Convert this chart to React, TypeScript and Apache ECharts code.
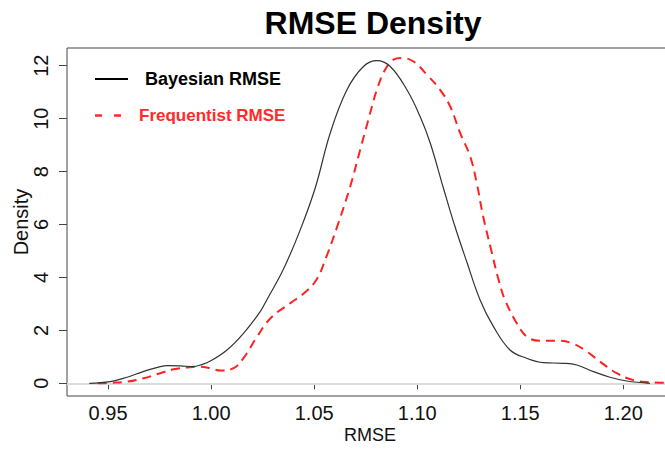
import React, { useEffect, useRef } from "react";
import * as echarts from "echarts";

// Bayesian RMSE density
const bayesX = [0.9409, 0.951, 0.9592, 0.967, 0.9753, 0.9786, 0.985, 0.9915, 0.9947, 0.9996, 1.0077, 1.0157, 1.0238, 1.027, 1.035, 1.043, 1.0505, 1.0578, 1.0659, 1.0739, 1.0804, 1.0869, 1.095, 1.1014, 1.1063, 1.1127, 1.118, 1.124, 1.1305, 1.137, 1.145, 1.1531, 1.1612, 1.1709, 1.1774, 1.1855, 1.1935, 1.2016, 1.2129];
const bayesY = [0, 0.06, 0.23, 0.44, 0.63, 0.67, 0.66, 0.63, 0.69, 0.84, 1.26, 1.89, 2.71, 3.15, 4.3, 5.75, 7.38, 9.46, 11.09, 11.97, 12.19, 11.97, 11.09, 10.08, 9.08, 7.38, 6.0, 4.6, 3.15, 2.14, 1.26, 0.945, 0.78, 0.756, 0.69, 0.44, 0.23, 0.087, 0];

// Frequentist RMSE density
const freqX = [0.945, 0.951, 0.9592, 0.9672, 0.9753, 0.9818, 0.9883, 0.9931, 0.9996, 1.0044, 1.0109, 1.0157, 1.0222, 1.0287, 1.0384, 1.045, 1.051, 1.056, 1.0615, 1.0675, 1.0723, 1.0763, 1.0804, 1.0844, 1.0885, 1.0925, 1.0982, 1.1047, 1.1111, 1.116, 1.1208, 1.1257, 1.1289, 1.132, 1.136, 1.1395, 1.1426, 1.1483, 1.1532, 1.1596, 1.1693, 1.1758, 1.1823, 1.1887, 1.1968, 1.2049, 1.2129, 1.2202];
const freqY = [0.005, 0.02, 0.06, 0.19, 0.38, 0.53, 0.6, 0.63, 0.57, 0.48, 0.57, 0.95, 1.75, 2.45, 3.03, 3.4, 3.9, 4.8, 6.0, 7.44, 8.82, 9.96, 11.09, 11.85, 12.23, 12.29, 12.16, 11.66, 11.09, 10.46, 9.46, 8.57, 7.56, 6.3, 5.0, 3.9, 3.15, 2.27, 1.76, 1.61, 1.61, 1.49, 1.2, 0.82, 0.38, 0.12, 0.04, 0.02];

const xTicks = [0.95, 1.0, 1.05, 1.1, 1.15, 1.2];
const yTicks = [0, 2, 4, 6, 8, 10, 12];

const FONT = "'Liberation Sans', Arial, sans-serif";

export default function App() {
  const ref = useRef<HTMLDivElement>(null);
  useEffect(() => {
    if (!ref.current) return;
    const chart = echarts.init(ref.current, null, { renderer: "svg" });
    const bayes = bayesX.map((x, i) => [x, bayesY[i]]);
    const freq = freqX.map((x, i) => [x, freqY[i]]);
    chart.setOption({
      animation: false,
      backgroundColor: "#fff",
      textStyle: { fontFamily: FONT },
      grid: {
        left: 67,
        top: 48,
        width: 606,
        height: 348,
        show: true,
        borderColor: "#444",
        borderWidth: 1,
        containLabel: false,
        outerBoundsMode: "none",
      },
      xAxis: {
        type: "value",
        min: 0.93007,
        max: 1.2241,
        name: "RMSE",
        nameLocation: "middle",
        nameGap: 30,
        nameMoveOverlap: false,
        nameTextStyle: { fontSize: 18, color: "#111", fontFamily: FONT },
        axisLine: { show: false },
        splitLine: { show: false },
        axisTick: {
          show: true,
          inside: false,
          length: 6,
          customValues: xTicks,
          lineStyle: { color: "#444", width: 1 },
        },
        axisLabel: {
          customValues: xTicks,
          formatter: (v: number) => v.toFixed(2),
          fontSize: 20,
          color: "#111",
          margin: 7,
          fontFamily: FONT,
        },
      },
      yAxis: {
        type: "value",
        min: -0.48,
        max: 12.67,
        name: "Density",
        nameLocation: "middle",
        nameRotate: 90,
        nameGap: 36,
        nameMoveOverlap: false,
        nameTextStyle: { fontSize: 20, color: "#111", fontFamily: FONT },
        axisLine: { show: false },
        splitLine: { show: false },
        axisTick: {
          show: true,
          length: 8,
          customValues: yTicks,
          lineStyle: { color: "#444", width: 1 },
        },
        axisLabel: {
          customValues: yTicks,
          rotate: 90,
          fontSize: 20,
          color: "#111",
          margin: 16,
          fontFamily: FONT,
        },
      },
      series: [
        {
          type: "line",
          name: "Frequentist RMSE",
          data: freq,
          showSymbol: false,
          symbol: "none",
          smooth: 0.4,
          lineStyle: { color: "#ff2020", width: 2, type: [9, 6] },
          z: 3,
        },
        {
          type: "line",
          name: "Bayesian RMSE",
          data: bayes,
          showSymbol: false,
          symbol: "none",
          smooth: 0.4,
          lineStyle: { color: "#333", width: 1.2 },
          z: 4,
          markLine: {
            silent: true,
            symbol: "none",
            label: { show: false },
            lineStyle: { color: "#dcdcdc", width: 2, type: "solid" },
            data: [{ yAxis: 0 }],
            z: 1,
          },
        },
      ],
      graphic: [
        {
          type: "text",
          x: 373,
          y: 23,
          style: {
            text: "RMSE Density",
            font: `bold 32px ${FONT}`,
            fill: "#000",
            textAlign: "center",
            textVerticalAlign: "middle",
          },
        },
        {
          type: "line",
          shape: { x1: 95, y1: 79, x2: 128, y2: 79 },
          style: { stroke: "#000", lineWidth: 2 },
        },
        {
          type: "text",
          x: 145,
          y: 79,
          style: {
            text: "Bayesian RMSE",
            font: `bold 18px ${FONT}`,
            fill: "#000",
            textAlign: "left",
            textVerticalAlign: "middle",
          },
        },
        {
          type: "line",
          shape: { x1: 95, y1: 115.5, x2: 122, y2: 115.5 },
          style: { stroke: "#ff2a2a", lineWidth: 2.5, lineDash: [7, 12] },
        },
        {
          type: "text",
          x: 139,
          y: 115.5,
          style: {
            text: "Frequentist RMSE",
            font: `bold 17px ${FONT}`,
            fill: "#ff2a2a",
            textAlign: "left",
            textVerticalAlign: "middle",
          },
        },
      ],
    });
    return () => chart.dispose();
  }, []);
  return (
    <div
      ref={ref}
      style={{ position: "absolute", left: 0, top: 0, width: 665, height: 452 }}
    />
  );
}
